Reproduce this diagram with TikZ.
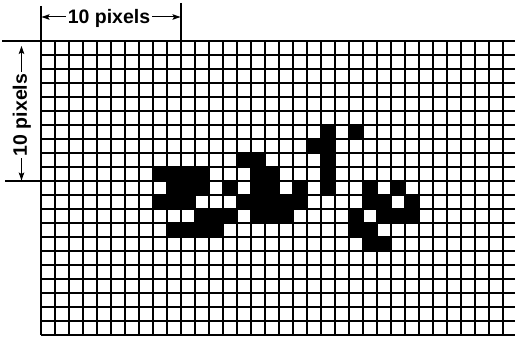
\documentclass[tikz,border=0pt]{standalone}
\usepackage{fontspec}
\setmainfont{Liberation Sans}
\usetikzlibrary{arrows.meta}
\begin{document}
\begin{tikzpicture}[x=1pt,y=-1pt,
  gridline/.style={line width=1.05pt, black},
  dimarrow/.style={line width=1pt, -{Stealth[length=8pt,width=5.5pt,inset=1.5pt]}},
  dimlabel/.style={font=\fontsize{19.5}{22}\selectfont\bfseries, inner sep=0pt},
  cell/.style={fill=black}]
\useasboundingbox (0,0) rectangle (515,337);
% black pixels
\foreach \c/\r in {20/6,22/6,
  19/7,20/7,
  14/8,15/8,20/8,
  8/9,9/9,10/9,11/9,15/9,16/9,20/9,
  9/10,10/10,11/10,13/10,15/10,16/10,18/10,20/10,23/10,25/10,
  8/11,9/11,10/11,14/11,15/11,16/11,17/11,18/11,23/11,24/11,26/11,
  11/12,12/12,13/12,15/12,16/12,17/12,22/12,24/12,25/12,26/12,
  9/13,10/13,11/13,12/13,22/13,23/13,
  23/14,24/14}
  \fill[cell] (41+14*\c,41+14*\r) rectangle ++(14,14);
% grid
\foreach \k in {0,...,33}
  \draw[gridline] (41+14*\k,41) -- (41+14*\k,335);
\foreach \r in {0,...,21}
  \draw[gridline] (41,41+14*\r) -- (515,41+14*\r);
% extension lines
\draw[gridline] (2,41) -- (41,41);
\draw[gridline] (5,181) -- (41,181);
\draw[gridline] (41,6) -- (41,41);
\draw[gridline] (181,3) -- (181,41);
% labels
\node[dimlabel, anchor=base] (htext) at (109,24) {10 pixels};
\node[dimlabel, rotate=90, anchor=base] (vtext) at (27,115) {10 pixels};
\coordinate (hl) at (41.5,17);
\coordinate (hr) at (180.5,17);
\coordinate (vu) at (21.5,46);
\coordinate (vd) at (21.5,180.5);
\draw[dimarrow] ([xshift=-2pt]htext.west |- hl) -- (hl);
\draw[dimarrow] ([xshift=2pt]htext.east |- hr) -- (hr);
\draw[dimarrow] ([yshift=2pt]vtext.east -| vu) -- (vu);
\draw[dimarrow] ([yshift=-2pt]vtext.west -| vd) -- (vd);
\end{tikzpicture}
\end{document}
